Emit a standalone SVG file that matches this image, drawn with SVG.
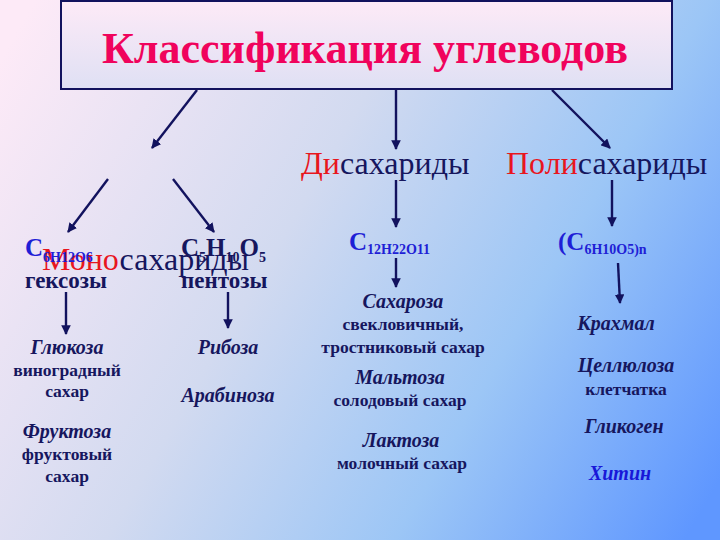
<svg xmlns="http://www.w3.org/2000/svg" width="720" height="540" viewBox="0 0 720 540">
<defs>
<linearGradient id="bg" gradientUnits="userSpaceOnUse" x1="0" y1="60" x2="720" y2="480">
<stop offset="0" stop-color="#fdeaf7"/>
<stop offset="0.4" stop-color="#d2daf0"/>
<stop offset="0.7" stop-color="#9cc6f6"/>
<stop offset="1" stop-color="#5f97ff"/>
</linearGradient>
<linearGradient id="box" x1="0" y1="0" x2="0" y2="1">
<stop offset="0" stop-color="#fdeaf7"/>
<stop offset="1" stop-color="#dfe0f4"/>
</linearGradient>
<marker id="ah" viewBox="0 0 10 10" refX="9" refY="5" markerWidth="4" markerHeight="4" orient="auto" markerUnits="strokeWidth">
<path d="M0,0 L10,5 L0,10 z" fill="#12125e"/>
</marker>
</defs>
<style>
.ar{stroke:#12125e;stroke-width:2.4;fill:none;marker-end:url(#ah)}
.cat{font-family:"Liberation Serif",serif;font-size:32px;fill:#16165e}
.red{fill:#e8161e}
.f{font-family:"Liberation Serif",serif;font-weight:bold;fill:#1f1fd6}
.nv{fill:#16165e}
.b{font-family:"Liberation Serif",serif;font-weight:bold;fill:#16165e;text-anchor:middle}
.it{font-family:"Liberation Serif",serif;font-weight:bold;font-style:italic;font-size:20px;fill:#16165e;text-anchor:middle}
.sm{font-size:17.5px}
</style>
<rect width="720" height="540" fill="url(#bg)"/>
<g id="title">
<rect x="61" y="1" width="611" height="88" fill="url(#box)" stroke="#12125e" stroke-width="2"/>
<text x="365" y="63" text-anchor="middle" font-family="Liberation Serif,serif" font-weight="bold" font-size="44" fill="#f0035c">Классификация углеводов</text>
</g>
<g id="connectors">
<line class="ar" x1="197" y1="90" x2="152" y2="148"/>
<line class="ar" x1="396" y1="90" x2="396" y2="149"/>
<line class="ar" x1="552" y1="90" x2="610" y2="148"/>
<line class="ar" x1="108" y1="179" x2="68" y2="232"/>
<line class="ar" x1="173" y1="179" x2="214" y2="232"/>
<line class="ar" x1="396" y1="180" x2="396" y2="227"/>
<line class="ar" x1="612" y1="180" x2="612" y2="226"/>
<line class="ar" x1="396" y1="258" x2="396" y2="287"/>
<line class="ar" x1="618" y1="263" x2="620" y2="303"/>
<line class="ar" x1="66" y1="292" x2="66" y2="334"/>
<line class="ar" x1="228" y1="292" x2="228" y2="328"/>
</g>
<g id="mono">
<text x="42" y="270" class="cat"><tspan class="red">Моно</tspan>сахариды</text>
</g>
<g id="di">
<text x="301" y="174" class="cat"><tspan class="red">Ди</tspan>сахариды</text>
</g>
<g id="poly">
<text x="506" y="174" class="cat"><tspan class="red">Поли</tspan>сахариды</text>
</g>
<g id="hexoses">
<text x="25" y="256" class="f" font-size="25">C<tspan font-size="14" dy="6">6H12O6</tspan></text>
<text x="25" y="288" class="b" font-size="23" style="text-anchor:start">гексозы</text>
<text x="67" y="354" class="it">Глюкоза</text>
<text x="67" y="376" class="b sm">виноградный</text>
<text x="67" y="397" class="b sm">сахар</text>
<text x="67" y="438" class="it">Фруктоза</text>
<text x="67" y="460" class="b sm">фруктовый</text>
<text x="67" y="482" class="b sm">сахар</text>
</g>
<g id="pentoses">
<text x="181" y="256" class="f nv" font-size="25">C<tspan font-size="14" dy="6">5</tspan><tspan dy="-6">H</tspan><tspan font-size="14" dy="6">10</tspan><tspan dy="-6">O</tspan><tspan font-size="14" dy="6">5</tspan></text>
<text x="181" y="288" class="b" font-size="23" style="text-anchor:start">пентозы</text>
<text x="228" y="354" class="it">Рибоза</text>
<text x="228" y="402" class="it">Арабиноза</text>
</g>
<g id="disaccharides">
<text x="349" y="250" class="f" font-size="25">C<tspan font-size="14" dy="4">12H22O11</tspan></text>
<text x="403" y="308" class="it">Сахароза</text>
<text x="403" y="330" class="b sm">свекловичный,</text>
<text x="403" y="353" class="b sm">тростниковый сахар</text>
<text x="400" y="384" class="it">Мальтоза</text>
<text x="400" y="406" class="b sm">солодовый сахар</text>
<text x="401" y="447" class="it">Лактоза</text>
<text x="402" y="469" class="b sm">молочный сахар</text>
</g>
<g id="polysaccharides">
<text x="558" y="250" class="f" font-size="25">(C<tspan font-size="14" dy="4">6H10O5)n</tspan></text>
<text x="616" y="330" class="it">Крахмал</text>
<text x="626" y="372" class="it">Целлюлоза</text>
<text x="626" y="395" class="b sm">клетчатка</text>
<text x="624" y="433" class="it">Гликоген</text>
<text x="620" y="480" class="it" style="fill:#1818d8">Хитин</text>
</g>
</svg>
